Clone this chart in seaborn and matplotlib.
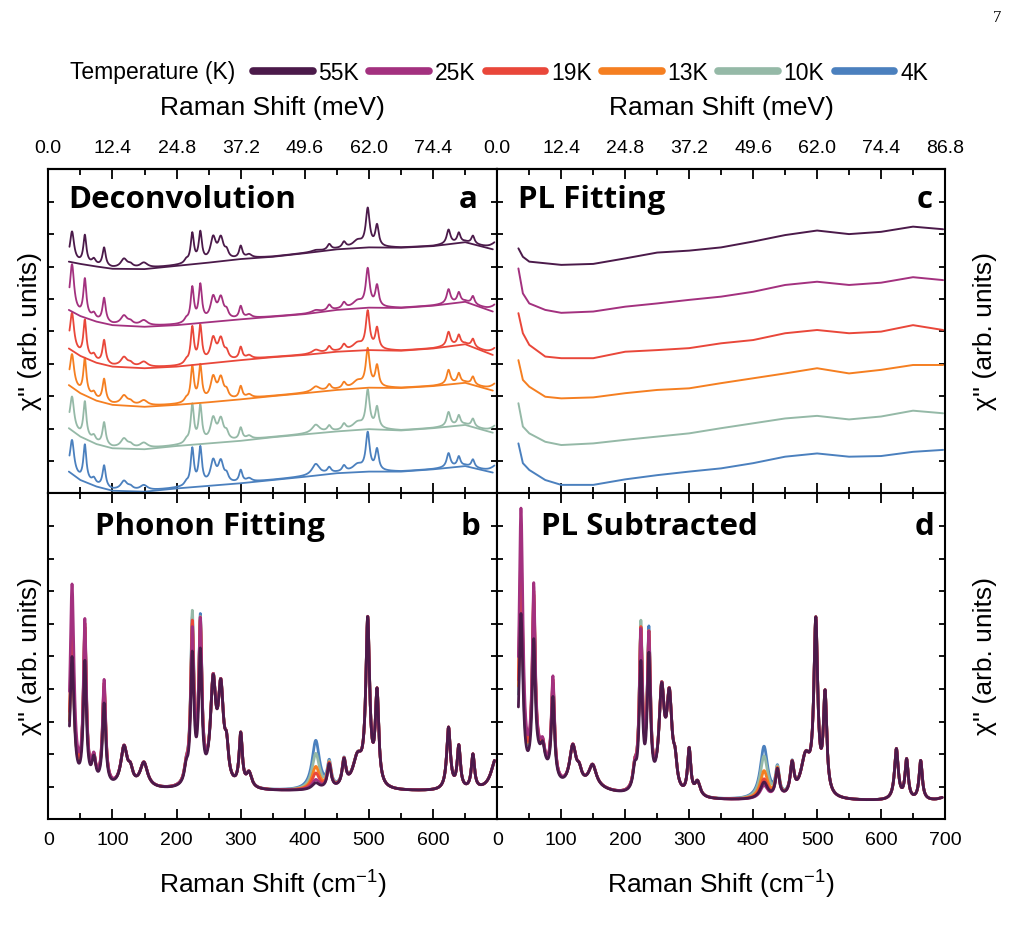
import numpy as np
import pandas as pd
import matplotlib
matplotlib.use('Agg')
import matplotlib.pyplot as plt
from matplotlib.lines import Line2D
import seaborn as sns

sns.set_style('ticks')
plt.rcParams['font.family'] = ['Liberation Sans', 'DejaVu Sans']
plt.rcParams['mathtext.default'] = 'regular'
plt.rcParams['axes.linewidth'] = 1.5
plt.rcParams['axes.edgecolor'] = 'black'
plt.rcParams['xtick.color'] = 'black'
plt.rcParams['ytick.color'] = 'black'
plt.rcParams['text.color'] = 'black'
plt.rcParams['axes.labelcolor'] = 'black'

TEMPS = ['55K', '25K', '19K', '13K', '10K', '4K']
COLORS = ['#4b1a4a', '#a3317f', '#e9473a', '#f57f21', '#95b9a7', '#4b80be']
PALETTE = dict(zip(TEMPS, COLORS))
DRAW_ORDER = TEMPS[::-1]

MODE_CM = [37, 57, 65, 71, 87, 118, 128, 140, 149, 215, 224.5, 237, 257, 269, 278,
           300, 313, 417, 438, 461, 482, 498, 512.5, 624, 640, 662, 698]
MODE_HW = [3.8, 2.8, 18, 3.5, 3.0, 6, 4.5, 50, 7, 3.5, 3.0, 3.0, 5.0, 5.0, 3.5,
           3.0, 5, 7, 3.5, 3.5, 9, 3.6, 3.2, 3.5, 3.0, 3.0, 9]
MODE_B = [4.0, 3.7, 0.1, 0.7, 2.5, 1.2, 0.4, 0.05, 0.75, 0.45, 3.9, 3.9, 3.0, 2.8, 0.9,
          1.6, 0.45, 0.2, 0.75, 0.8, 0.9, 5.0, 2.8, 1.9, 1.3, 1.05, 1.0]
MODE_D = [5.3, 3.8, 1.0, 0.5, 2.5, 1.2, 0.35, 0.35, 0.65, 0.6, 3.8, 4.0, 3.0, 2.8, 0.7,
          1.4, 0.45, 0.5, 0.85, 0.95, 1.2, 5.2, 3.0, 1.55, 1.2, 1.2, 0.1]
BASE_B = 0.85
BASE_D = 0.55

# modes whose strength changes with temperature (37, 57, 87, 224.5, 237, 417 cm-1)
VAR_CM = [37, 57, 87, 224.5, 237, 417]
VAR_B = {'55K': [4.0, 3.7, 2.5, 3.9, 3.9, 0.2],
         '25K': [6.2, 4.9, 3.2, 4.6, 4.8, 0.3],
         '19K': [4.9, 4.8, 3.1, 4.8, 4.8, 0.5],
         '13K': [4.3, 4.7, 3.0, 4.7, 4.7, 0.7],
         '10K': [4.4, 4.7, 3.0, 5.1, 4.8, 1.1],
         '4K':  [4.4, 4.7, 2.9, 4.9, 4.9, 1.5]}
VAR_D = {'55K': [5.3, 3.8, 2.5, 3.8, 4.0, 0.5],
         '25K': [8.5, 5.4, 3.1, 4.75, 4.6, 0.4],
         '19K': [7.0, 5.2, 3.0, 4.8, 4.6, 0.6],
         '13K': [6.6, 5.1, 2.9, 4.8, 4.6, 0.85],
         '10K': [6.1, 4.9, 2.9, 5.0, 4.6, 1.3],
         '4K':  [6.1, 4.9, 2.9, 4.8, 4.75, 1.6]}

# PL background fits in panel a (offset units)
X_FIT = [32, 50, 75, 100, 150, 200, 250, 300, 350, 400, 450, 500, 550, 600, 650, 693]
FIT_A = {'55K': [7.15, 7.08, 7.00, 6.93, 6.92, 7.02, 7.12, 7.23, 7.30, 7.41, 7.53, 7.59, 7.58, 7.63, 7.75, 7.53],
         '25K': [5.66, 5.47, 5.30, 5.19, 5.14, 5.19, 5.28, 5.37, 5.45, 5.53, 5.66, 5.73, 5.72, 5.79, 5.91, 5.61],
         '19K': [4.47, 4.24, 4.03, 3.91, 3.86, 3.91, 4.01, 4.11, 4.20, 4.27, 4.37, 4.42, 4.40, 4.47, 4.60, 4.27],
         '13K': [3.34, 3.09, 2.86, 2.73, 2.67, 2.73, 2.81, 2.90, 3.00, 3.09, 3.19, 3.26, 3.25, 3.31, 3.41, 3.17],
         '10K': [2.01, 1.75, 1.52, 1.39, 1.36, 1.46, 1.54, 1.62, 1.73, 1.82, 1.91, 1.98, 1.94, 2.01, 2.11, 1.87],
         '4K':  [0.67, 0.41, 0.21, 0.08, 0.05, 0.15, 0.23, 0.31, 0.41, 0.51, 0.62, 0.67, 0.67, 0.74, 0.84, 0.64]}
A_SCALE = 0.23

# extracted PL in panel c (offset units)
X_PL = [33, 40, 50, 75, 100, 150, 200, 250, 300, 350, 400, 450, 500, 550, 600, 650, 697]
PL_C = {'55K': [7.56, 7.30, 7.15, 7.10, 7.05, 7.08, 7.25, 7.43, 7.49, 7.59, 7.77, 7.97, 8.11, 8.00, 8.07, 8.23, 8.15],
        '25K': [6.94, 6.17, 5.86, 5.66, 5.57, 5.61, 5.76, 5.86, 5.97, 6.07, 6.22, 6.43, 6.53, 6.43, 6.50, 6.67, 6.58],
        '19K': [5.56, 4.94, 4.58, 4.22, 4.17, 4.17, 4.37, 4.42, 4.48, 4.63, 4.73, 4.94, 5.04, 4.94, 4.99, 5.19, 5.04],
        '13K': [4.11, 3.50, 3.29, 2.98, 2.93, 2.96, 3.09, 3.19, 3.24, 3.40, 3.55, 3.70, 3.86, 3.70, 3.81, 3.96, 3.96],
        '10K': [2.78, 2.06, 1.85, 1.59, 1.49, 1.54, 1.65, 1.75, 1.85, 2.01, 2.16, 2.31, 2.39, 2.28, 2.37, 2.55, 2.47],
        '4K':  [1.54, 0.93, 0.72, 0.41, 0.26, 0.26, 0.43, 0.56, 0.67, 0.77, 0.93, 1.13, 1.23, 1.13, 1.15, 1.28, 1.34]}

SHIFT = np.arange(33, 696, 0.5)


def mode_heights(base_list, var_table, temp):
    h = list(base_list)
    for c, v in zip(VAR_CM, var_table[temp]):
        h[MODE_CM.index(c)] = v
    return h


def phonon(heights, base):
    y = np.full_like(SHIFT, base, dtype=float)
    for c, w, h in zip(MODE_CM, MODE_HW, heights):
        y += h * w**2 / ((SHIFT - c)**2 + w**2)
    return y


def frame(traces):
    parts = [pd.DataFrame({'shift': x, 'chi': y, 'T': t, 'trace': f'{t}-{n}'})
             for t, n, x, y in traces]
    return pd.concat(parts, ignore_index=True)


def draw(ax, df, lw):
    sns.lineplot(data=df, x='shift', y='chi', hue='T', units='trace', estimator=None,
                 sort=False, hue_order=DRAW_ORDER, palette=PALETTE, lw=lw,
                 legend=False, ax=ax)
    ax.set_xlabel('')
    ax.set_ylabel('')


def style(ax, show_700, top):
    ax.set_xlim(0, 700)
    ax.set_ylim(0, 10)
    ax.set_xticks(np.arange(0, 701, 100))
    ax.set_xticks(np.arange(50, 700, 100), minor=True)
    labels = [str(v) for v in range(0, 701, 100)]
    if not show_700:
        labels[-1] = ''
    ax.set_xticklabels(labels)
    ax.set_yticks(np.arange(1, 10))
    ax.set_yticklabels([])
    ax.tick_params(axis='both', which='both', direction='in', top=True, right=True,
                   left=True, bottom=True, width=1.3)
    ax.tick_params(axis='x', which='major', length=7, labelsize=14, pad=9)
    ax.tick_params(axis='x', which='minor', length=4)
    ax.tick_params(axis='y', length=4.5)
    for s in ax.spines.values():
        s.set_linewidth(1.5)
    if top:
        ax.tick_params(axis='x', which='both', labelbottom=False, top=False)
        sec = ax.secondary_xaxis('top', functions=(lambda v: v * 0.124, lambda v: v / 0.124))
        sec.set_xticks([12.4 * k for k in range(8)])
        sec.set_xticks([6.2 + 12.4 * k for k in range(7)], minor=True)
        mev = ['%.1f' % (12.4 * k) for k in range(8)]
        if not show_700:
            mev[-1] = ''
        sec.set_xticklabels(mev)
        sec.tick_params(which='both', direction='in', width=1.3)
        sec.tick_params(which='major', length=7, labelsize=14, pad=9)
        sec.tick_params(which='minor', length=4)
        sec.spines['top'].set_linewidth(1.5)


fig = plt.figure(figsize=(10.11, 9.31), dpi=100)
L, R = 48.3 / 1011, 497.3 / 1011
WL, WR = 449 / 1011, 447.7 / 1011
BT, HT = 1 - 493.3 / 931, 324 / 931
BB, HB = 1 - 819.3 / 931, 326 / 931
ax_a = fig.add_axes([L, BT, WL, HT])
ax_c = fig.add_axes([R, BT, WR, HT])
ax_b = fig.add_axes([L, BB, WL, HB])
ax_d = fig.add_axes([R, BB, WR, HB])

# panel a: raw spectra = PL fit + phonons
traces = []
for t in TEMPS:
    fit = np.array(FIT_A[t])
    ph = phonon(mode_heights(MODE_B, VAR_B, t), BASE_B)
    raw = np.interp(SHIFT, X_FIT, fit) + A_SCALE * (ph - BASE_B)
    traces.append((t, 'raw', SHIFT, raw))
    traces.append((t, 'fit', np.array(X_FIT, float), fit))
draw(ax_a, frame(traces), 1.3)

# panel b: phonon fitting
traces = [(t, 'b', SHIFT, phonon(mode_heights(MODE_B, VAR_B, t), BASE_B)) for t in TEMPS]
draw(ax_b, frame(traces), 2.0)

# panel c: PL
traces = [(t, 'pl', np.array(X_PL, float), np.array(PL_C[t])) for t in TEMPS]
draw(ax_c, frame(traces), 1.4)

# panel d: PL subtracted
traces = [(t, 'd', SHIFT, phonon(mode_heights(MODE_D, VAR_D, t), BASE_D)) for t in TEMPS]
draw(ax_d, frame(traces), 2.0)

style(ax_a, False, True)
style(ax_c, True, True)
style(ax_b, False, False)
style(ax_d, True, False)

title_kw = dict(fontsize=22.5, fontweight='bold', family=['Open Sans', 'DejaVu Sans'],
                va='center', color='black')
ax_a.text(0.044, 0.905, 'Deconvolution', transform=ax_a.transAxes, **title_kw)
ax_c.text(0.046, 0.905, 'PL Fitting', transform=ax_c.transAxes, **title_kw)
ax_b.text(0.104, 0.897, 'Phonon Fitting', transform=ax_b.transAxes, **title_kw)
ax_d.text(0.098, 0.897, 'PL Subtracted', transform=ax_d.transAxes, **title_kw)
ax_a.text(0.935, 0.905, 'a', transform=ax_a.transAxes, ha='center', **title_kw)
ax_c.text(0.955, 0.905, 'c', transform=ax_c.transAxes, ha='center', **title_kw)
ax_b.text(0.94, 0.897, 'b', transform=ax_b.transAxes, ha='center', **title_kw)
ax_d.text(0.955, 0.897, 'd', transform=ax_d.transAxes, ha='center', **title_kw)

# axis labels
for xc in (272.8 / 1011, 721.2 / 1011):
    fig.text(xc, 1 - 108 / 931, 'Raman Shift (meV)', ha='center', va='center', fontsize=19)
    fig.text(xc, 1 - 885 / 931, 'Raman Shift (cm$^{-1}$)', ha='center', va='center', fontsize=19)
for yc in (1 - 331 / 931, 1 - 656 / 931):
    fig.text(30 / 1011, yc, "χ'' (arb. units)", rotation=90, ha='center', va='center', fontsize=19)
    fig.text(985 / 1011, yc, "χ'' (arb. units)", rotation=90, ha='center', va='center', fontsize=19)

# legend
fig.text(70 / 1011, 1 - 73 / 931, 'Temperature (K)', ha='left', va='center', fontsize=16.5)
handles = [Line2D([], [], color=PALETTE[t], lw=5.5, solid_capstyle='round') for t in TEMPS]
fig.legend(handles, TEMPS, ncol=6, loc='center left', bbox_to_anchor=(253 / 1011, 1 - 73 / 931),
           frameon=False, fontsize=16.5, handlelength=2.6, handletextpad=0.25,
           columnspacing=0.45, borderpad=0, borderaxespad=0)

fig.text(997 / 1011, 1 - 18 / 931, '7', ha='center', va='center', fontsize=12,
         family=['Liberation Serif', 'DejaVu Serif'])

fig.savefig('out.png', dpi=100)
